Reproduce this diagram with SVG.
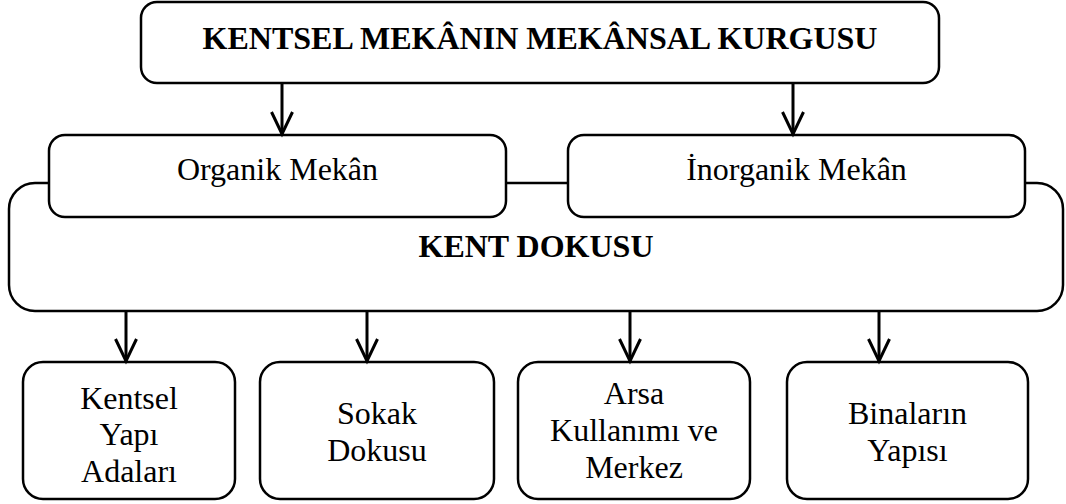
<svg xmlns="http://www.w3.org/2000/svg" width="1066" height="504" viewBox="0 0 1066 504">
  <style>
    .box { fill: #ffffff; stroke: #000000; stroke-width: 2.5; }
    .link { fill: none; stroke: #000000; stroke-width: 3; }
    .t { font-family: "Liberation Serif", Tinos, "Times New Roman", Times, "DejaVu Serif", serif; font-size: 32px; fill: #000000; text-anchor: middle; }
    .b { font-weight: bold; }
  </style>
  <defs>
    <!-- open V arrowhead; +x follows the line direction -->
    <marker id="arrow" markerUnits="userSpaceOnUse" markerWidth="28" markerHeight="26" viewBox="-25 -13 28 26" refX="0" refY="0" orient="auto" overflow="visible">
      <path d="M-22,-10.5 L0,0 L-22,10.5" fill="none" stroke="#000000" stroke-width="3" stroke-linejoin="miter"/>
    </marker>
  </defs>

  <!-- main heading -->
  <g id="node-kurgu">
    <rect class="box" x="141" y="2" width="798" height="81" rx="16"/>
    <text class="t b" x="540" y="49">KENTSEL MEKÂNIN MEKÂNSAL KURGUSU</text>
  </g>

  <!-- urban fabric container, drawn under the two space types -->
  <g id="node-kent-dokusu">
    <rect class="box" x="9" y="183" width="1054" height="128" rx="26"/>
    <text class="t b" x="536" y="257">KENT DOKUSU</text>
  </g>

  <g id="node-organik">
    <rect class="box" x="49" y="135" width="457" height="82" rx="16"/>
    <text class="t" x="277.5" y="180">Organik Mekân</text>
  </g>

  <g id="node-inorganik">
    <rect class="box" x="568" y="135" width="457" height="82" rx="16"/>
    <text class="t" x="796.5" y="180">İnorganik Mekân</text>
  </g>

  <g id="node-yapi-adalari">
    <rect class="box" x="23" y="362" width="212" height="137" rx="20"/>
    <text class="t" x="129" y="409">Kentsel</text>
    <text class="t" x="129" y="445">Yapı</text>
    <text class="t" x="129" y="482">Adaları</text>
  </g>

  <g id="node-sokak">
    <rect class="box" x="260" y="362" width="234" height="137" rx="20"/>
    <text class="t" x="377" y="424">Sokak</text>
    <text class="t" x="377" y="461">Dokusu</text>
  </g>

  <g id="node-arsa">
    <rect class="box" x="518" y="362" width="232" height="137" rx="20"/>
    <text class="t" x="634" y="404">Arsa</text>
    <text class="t" x="634" y="441">Kullanımı ve</text>
    <text class="t" x="634" y="478">Merkez</text>
  </g>

  <g id="node-binalar">
    <rect class="box" x="787" y="362" width="241" height="137" rx="20"/>
    <text class="t" x="907.5" y="424">Binaların</text>
    <text class="t" x="907.5" y="461">Yapısı</text>
  </g>

  <g id="connectors">
    <line class="link" x1="282" y1="83" x2="282" y2="134" marker-end="url(#arrow)"/>
    <line class="link" x1="793" y1="83" x2="793" y2="134" marker-end="url(#arrow)"/>
    <line class="link" x1="126" y1="311" x2="126" y2="361" marker-end="url(#arrow)"/>
    <line class="link" x1="367" y1="311" x2="367" y2="361" marker-end="url(#arrow)"/>
    <line class="link" x1="630" y1="311" x2="630" y2="361" marker-end="url(#arrow)"/>
    <line class="link" x1="879" y1="311" x2="879" y2="361" marker-end="url(#arrow)"/>
  </g>
</svg>
